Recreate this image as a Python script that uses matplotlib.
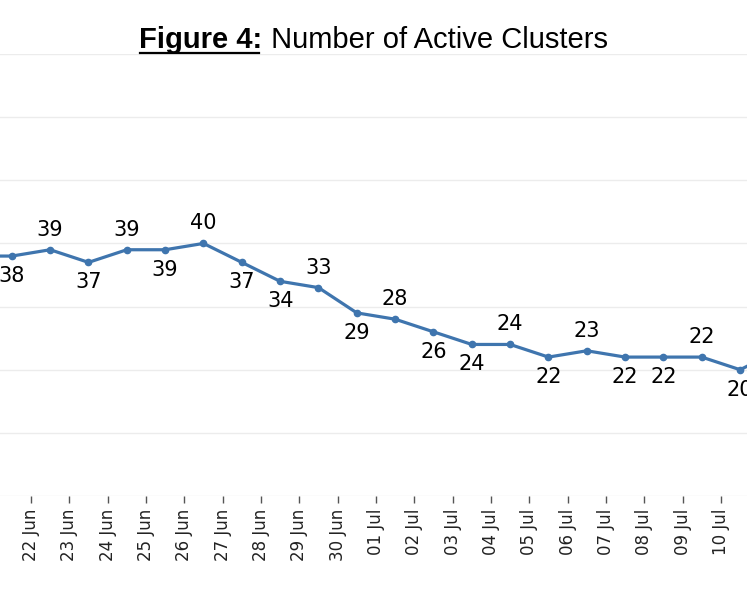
import numpy as np
import pandas as pd
import matplotlib
matplotlib.use("Agg")
import matplotlib.pyplot as plt
import matplotlib.dates as mdates
from matplotlib.lines import Line2D

# daily counts, point drawn at midday of each date
dates = pd.date_range("2020-06-20", "2020-07-11", freq="D")
clusters = [38, 38, 39, 37, 39, 39, 40, 37, 34, 33, 29,
            28, 26, 24, 24, 22, 23, 22, 22, 22, 20, 23]
# where each value label sits: 1 above the point, -1 below
label_side = [-1, -1, 1, -1, 1, -1, 1, -1, -1, 1, -1,
              1, -1, -1, 1, -1, 1, -1, -1, 1, -1, 1]

title_bold = "Figure 4:"
title_rest = " Number of Active Clusters"

W, H = 747, 598
fig = plt.figure(figsize=(W / 100, H / 100), dpi=100)
ax = fig.add_axes([0, (H - 496) / H, 1, (496 - 54) / H])

x = mdates.date2num(dates) + 0.5
ax.plot(x, clusters, color="#3F75AE", lw=2.3, marker="o", ms=4.5,
        solid_joinstyle="round", zorder=3)

for xi, v, side in zip(x, clusters, label_side):
    ax.annotate(str(v), (xi, v), xytext=(0, 20 * side), textcoords="offset pixels",
                ha="center", va="center", fontsize=15, family="DejaVu Sans",
                color="black")

# x range: 22 Jun tick sits at pixel 31, days are 38.33 px apart
day_px = 38.33
t0 = mdates.date2num(pd.Timestamp("2020-06-22"))
ax.set_xlim(t0 - 31 / day_px, t0 + (W - 31) / day_px)
ax.set_ylim(0, 70)

ticks = pd.date_range("2020-06-22", "2020-07-10", freq="D")
ax.set_xticks(mdates.date2num(ticks))
ax.set_xticklabels([d.strftime("%d %b") for d in ticks], rotation=90,
                   fontsize=12, family="DejaVu Sans", color="#222222")
ax.tick_params(axis="x", length=5, width=1, color="#555555", pad=4)
ax.set_yticks(np.arange(0, 71, 10))
ax.tick_params(axis="y", length=0, labelleft=False)
ax.grid(axis="y", color="#ececec", lw=1)
ax.set_axisbelow(True)
for s in ax.spines.values():
    s.set_visible(False)

# title: bold underlined part + regular part, centred together
fig.canvas.draw()
r = fig.canvas.get_renderer()
tb = fig.text(0, 0, title_bold, fontsize=21, fontweight="bold",
              family="Liberation Sans", transform=None)
tr = fig.text(0, 0, title_rest, fontsize=21, family="Liberation Sans", transform=None)
wb = tb.get_window_extent(r).width
wr = tr.get_window_extent(r).width
x0 = (W - wb - wr) / 2
base = H - 48
tb.set_position((x0, base))
tr.set_position((x0 + wb, base))
tb.set_va("baseline")
tr.set_va("baseline")
fig.add_artist(Line2D([x0 + 1, x0 + wb - 4], [H - 52.5, H - 52.5], lw=1.6,
                      color="black", transform=None))

fig.savefig("out.png", dpi=100)
